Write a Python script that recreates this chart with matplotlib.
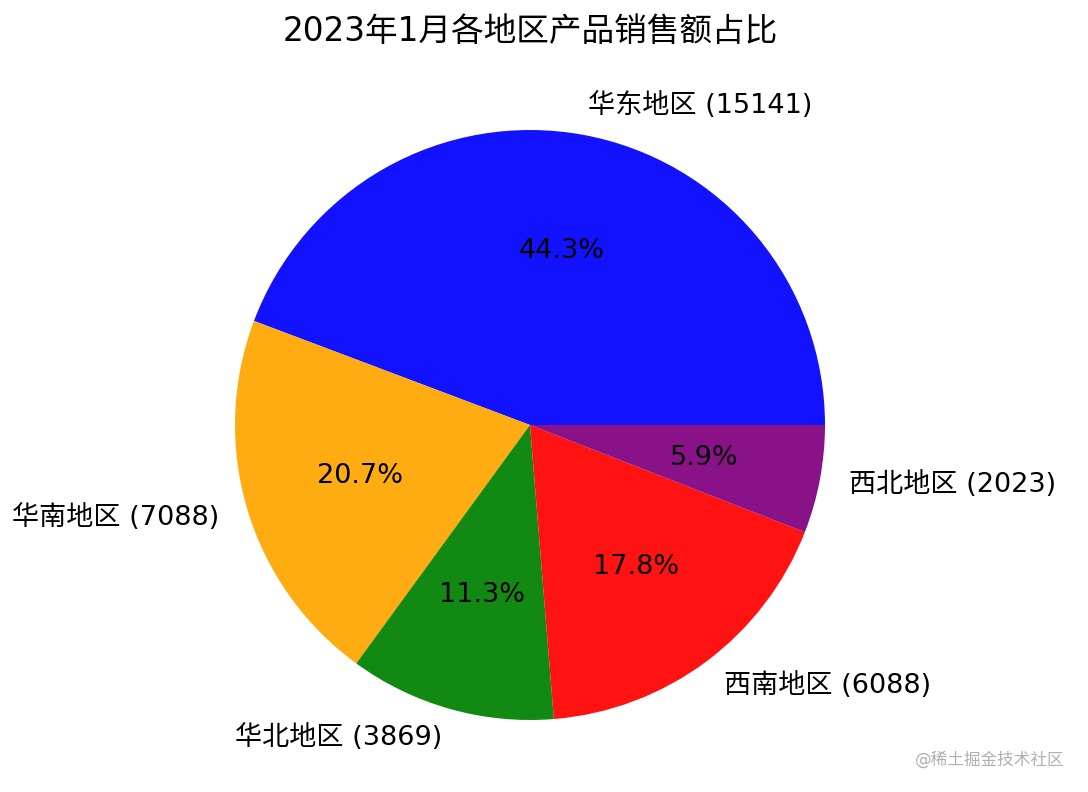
import matplotlib
matplotlib.use('Agg')
import matplotlib.pyplot as plt

plt.rcParams['font.family'] = ['DejaVu Sans', 'Noto Sans CJK SC']

TITLE = '2023年1月各地区产品销售额占比'
REGIONS = ['华东地区', '华南地区', '华北地区', '西南地区', '西北地区']
SALES = [15141, 7088, 3869, 6088, 2023]
COLORS = ['blue', 'orange', 'green', 'red', 'purple']


def main():
    fig = plt.figure(figsize=(10.88, 7.92), dpi=100)
    W, H = 1088, 792
    size = 737.5
    cx, cy = 530, 367
    ax = fig.add_axes([(cx - size / 2) / W, (cy - size / 2) / H, size / W, size / H])

    labels = [f'{r} ({v})' for r, v in zip(REGIONS, SALES)]
    ax.pie(SALES, labels=labels, colors=COLORS, autopct='%1.1f%%',
           wedgeprops={'alpha': 0.93}, textprops={'fontsize': 19.5})
    ax.set_xlim(-1.25, 1.25)
    ax.set_ylim(-1.25, 1.25)
    ax.set_aspect('equal')

    fig.text(cx / W, 1 - 32 / H, TITLE, ha='center', va='center', fontsize=23.5)
    fig.text(0.978, 1 - 760 / H, '@稀土掘金技术社区', ha='right', va='center',
             fontsize=12, color='#b0b0b0')

    fig.savefig('out.png', dpi=100)
    plt.close(fig)


if __name__ == '__main__':
    main()
